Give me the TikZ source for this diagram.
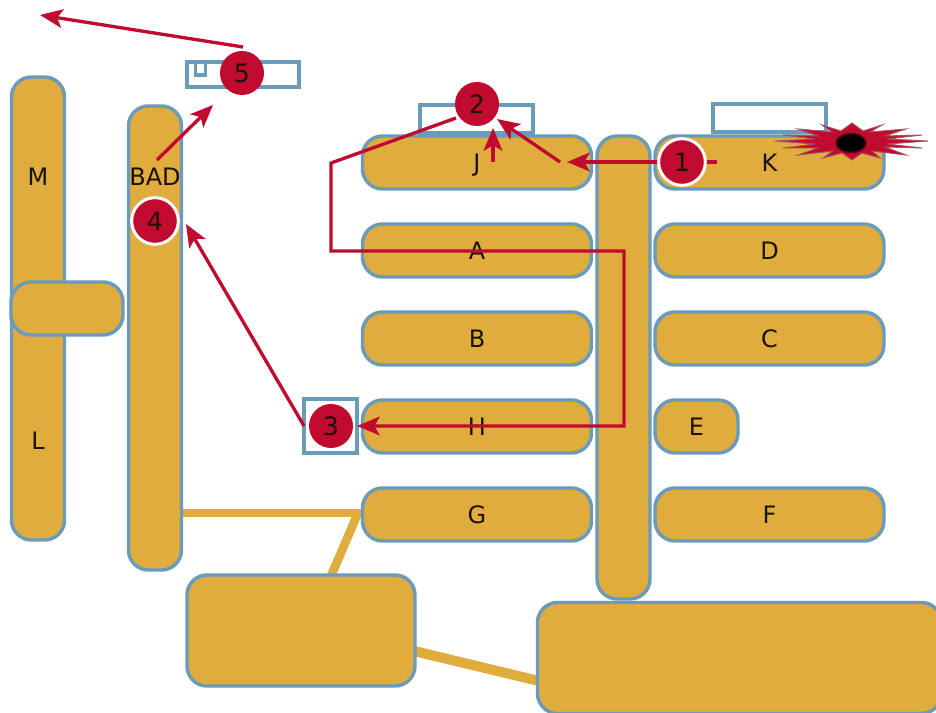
\documentclass[tikz,border=0pt]{standalone}
\usepackage{fontspec}
\setmainfont{DejaVu Sans}
\usetikzlibrary{arrows.meta}
\definecolor{gold}{HTML}{E0AC3E}
\definecolor{edgeblue}{HTML}{6A9BBA}
\definecolor{crim}{HTML}{C00A2E}
\definecolor{ink}{HTML}{1A1208}
\tikzset{
  x=0.75pt,y=-0.75pt,
  slab/.style 2 args={draw=edgeblue,fill=gold,line width=2.6pt,rounded corners=15pt,inner sep=0pt,outer sep=0pt,
     minimum width=#1*0.75pt,minimum height=#2*0.75pt,text=ink,font=\fontsize{18}{20}\selectfont,text height=13pt,text depth=0pt},
  tab/.style 2 args={draw=edgeblue,fill=white,line width=2.4pt,inner sep=0pt,outer sep=0pt,
     minimum width=#1*0.75pt,minimum height=#2*0.75pt},
  tag/.style={text=ink,font=\fontsize{18}{20}\selectfont,inner sep=0pt},
  stop/.style={circle,fill=crim,text=ink,inner sep=0pt,minimum size=33pt,font=\fontsize{19}{20}\selectfont,text height=14pt,text depth=0pt},
  ringed/.style={stop,draw=white,line width=2.25pt,minimum size=35pt},
  route/.style={draw=crim,line width=2.5pt,-{Stealth[length=17pt,width=14pt,inset=4pt]}},
  link/.style={draw=gold,line width=6.5pt},
}
\begin{document}
\begin{tikzpicture}
\clip (0,0) rectangle (936,713);
\fill[white] (0,0) rectangle (936,713);
% tabs
\node[tab={113}{28}] (tabJ) at (476.5,119) {};
\node[tab={113}{28}] (tabK) at (769.5,118) {};
\node[tab={112}{25}] (tab5) at (243,74.5) {};
\node[tab={10}{13},anchor=north west] (tabS) at (195.5,62) {};
\node[tab={53}{54}] (sq3) at (330.5,426) {};
% gold links
\coordinate (gTop) at (362,513);
\coordinate (gLow) at (331,576);
\coordinate (gEl) at (358,513);
\coordinate (gRa) at (414,651);
\coordinate (gRb) at (539,681);
\coordinate (gLa) at (183,513);
\draw[link] (gLa) -- (gTop);
\draw[link] (gEl) -- (gLow);
\draw[link,line width=7.5pt] (gRa) -- (gRb);
% slabs
\node[slab={53}{463}] (ML) at (38,308.5) {};
\node[slab={112}{53}] (bar) at (67,308.5) {};
\node[slab={53}{464}] (badc) at (155,338) {};
\node[slab={229}{53}] (J) at (477,162.5) {J};
\node[slab={229}{53}] (A) at (477,250.5) {A};
\node[slab={229}{53}] (B) at (477,338.5) {B};
\node[slab={229}{53}] (H) at (477,426.5) {H};
\node[slab={229}{53}] (G) at (477,514.5) {G};
\node[slab={53}{463}] (mid) at (623.5,367.5) {};
\node[slab={229}{53}] (K) at (769.5,162.5) {K};
\node[slab={229}{53}] (D) at (769.5,250.5) {D};
\node[slab={229}{53}] (C) at (769.5,338.5) {C};
\node[slab={83}{53}] (E) at (696.5,426.5) {E};
\node[slab={229}{53}] (F) at (769.5,514.5) {F};
\node[slab={228}{111}] (low) at (301,630.5) {};
\node[slab={404}{111}] (big) at (739.5,658) {};
\node[tag] (M) at (38,177) {M};
\node[tag] (L) at (38,441) {L};
\node[tag] (bad) at (155,177) {BAD};
% explosion
\fill[crim,draw=black!35!crim!70!white,line width=0.7pt]
  (775,141) -- (815,139) -- (783,135) -- (818,136) -- (798,129) -- (832,132) -- (822,125) -- (841,131)
  -- (852,123) -- (863,131) -- (882,125) -- (870,132) -- (906,129) -- (885,136) -- (922,135) -- (887,139)
  -- (928,141) -- (887,144) -- (922,148) -- (885,147) -- (906,155) -- (872,151) -- (880,158) -- (862,153)
  -- (852,160) -- (842,153) -- (823,158) -- (833,151) -- (798,155) -- (818,148) -- (783,148) -- (815,144) -- cycle;
\fill[black,draw=black!50!crim,line width=1.2pt] (851,143) ellipse [x radius=15,y radius=9.5];
% free ends of the route
\coordinate (s1) at (717,162);
\coordinate (e1) at (567,162);
\coordinate (s1b) at (560,162);
\coordinate (e1b) at (497,119);
\coordinate (s1c) at (493,162);
\coordinate (e1c) at (493,128);
\coordinate (r2a) at (331,163);
\coordinate (r2b) at (331,251);
\coordinate (r2c) at (624,251);
\coordinate (r2d) at (624,426);
\coordinate (s2) at (456,118);
\coordinate (e4) at (186,224);
\coordinate (s4) at (157,160);
\coordinate (e5) at (213,105);
\coordinate (s5) at (243,47);
\coordinate (e6) at (40,15);
\draw[route] (s1) -- (e1);
\draw[route] (s1b) -- (e1b);
\draw[route] (s1c) -- (e1c);
\draw[route] (s2) -- (r2a) -- (r2b) -- (r2c) -- (r2d) -- (sq3.east);
\draw[route] (sq3.west) -- (e4);
\draw[route] (s4) -- (e5);
\draw[route] (s5) -- (e6);
% stops
\node[ringed] (n1) at (682,162) {1};
\node[stop] (n2) at (477,104) {2};
\node[stop] (n3) at (331,426) {3};
\node[ringed] (n4) at (155,221) {4};
\node[stop] (n5) at (242,73) {5};
\end{tikzpicture}
\end{document}
